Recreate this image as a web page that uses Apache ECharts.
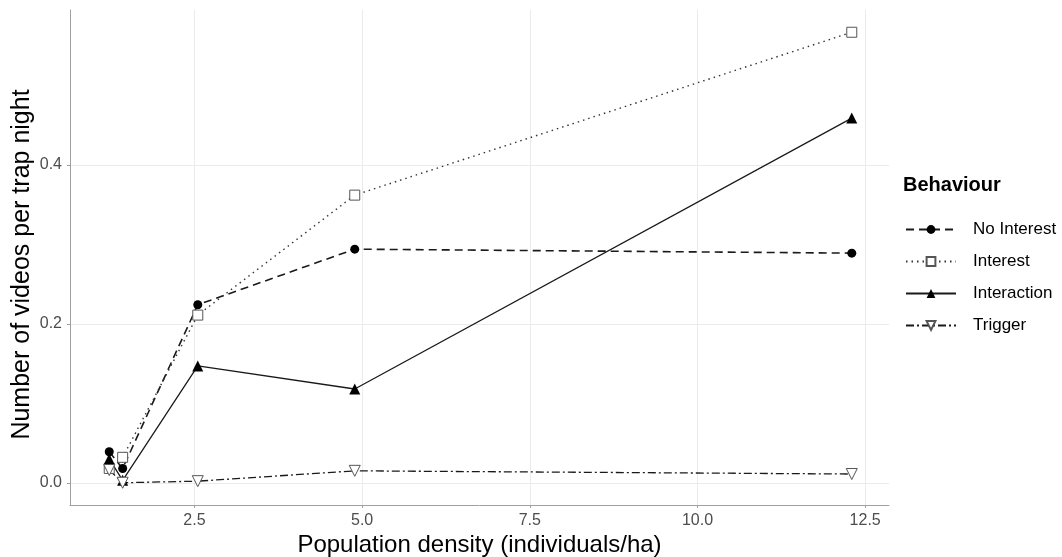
<!DOCTYPE html>
<html>
<head>
  <meta charset="utf-8" />
  <title>Behaviour vs population density</title>
  <script src="https://cdn.jsdelivr.net/npm/echarts@6/dist/echarts.min.js"></script>
  <style>
    html, body { margin: 0; padding: 0; background: #fff; }
    #main { width: 1062px; height: 557px; }
  </style>
</head>
<body>
  <div id="main"></div>
  <script>
    // population density (individuals/ha)
    var density = [1.23, 1.43, 2.55, 4.89, 12.3];
    // videos per trap night, per behaviour
    var noInterest = [0.039, 0.018, 0.224, 0.294, 0.289];
    var interest = [0.018, 0.032, 0.211, 0.362, 0.567];
    var interaction = [0.030, 0.003, 0.147, 0.118, 0.459];
    var trigger = [0.016, 0.000, 0.002, 0.015, 0.011];
    // tick labels
    var xTicks = [2.5, 5.0, 7.5, 10.0, 12.5];
    var yTicks = [0.0, 0.2, 0.4];

    function pairs(ys) {
      return density.map(function (x, i) { return [x, ys[i]]; });
    }

    var font = 'Liberation Sans, Arial, sans-serif';
    var chart = echarts.init(document.getElementById('main'));

    var option = {
      animation: false,
      backgroundColor: '#fff',
      title: {
        text: 'Behaviour',
        left: 898,
        top: 170,
        textStyle: { fontFamily: font, fontSize: 20, fontWeight: 'bold', color: '#000' }
      },
      legend: {
        orient: 'vertical',
        left: 900,
        top: 216,
        itemWidth: 50,
        itemHeight: 11,
        itemGap: 15,
        textStyle: { fontFamily: font, fontSize: 17, color: '#000', padding: [0, 0, 0, 12] },
        data: ['No Interest', 'Interest', 'Interaction', 'Trigger']
      },
      grid: { left: 70, right: 173, top: 10, bottom: 52, outerBoundsMode: 'none', containLabel: false },
      xAxis: {
        type: 'value',
        min: 0.645,
        max: 12.855,
        name: 'Population density (individuals/ha)',
        nameLocation: 'middle',
        nameGap: 28,
        nameMoveOverlap: false,
        nameTextStyle: { fontFamily: font, fontSize: 24, color: '#000' },
        axisLine: { onZero: false, lineStyle: { color: '#a0a0a0', width: 1 } },
        axisTick: { show: true, length: 3, customValues: xTicks, lineStyle: { color: '#a0a0a0' } },
        axisLabel: {
          customValues: xTicks,
          margin: 8,
          fontFamily: font,
          fontSize: 16,
          color: '#4d4d4d',
          formatter: function (v) { return v.toFixed(1); }
        },
        splitLine: { show: true, lineStyle: { color: '#ebebeb', width: 1 } }
      },
      yAxis: {
        type: 'value',
        min: -0.028,
        max: 0.595,
        name: 'Number of videos per trap night',
        nameLocation: 'middle',
        nameGap: 35,
        nameMoveOverlap: false,
        nameTextStyle: { fontFamily: font, fontSize: 25, color: '#000', padding: [0, 14, 0, 0] },
        axisLine: { show: true, onZero: false, lineStyle: { color: '#a0a0a0', width: 1 } },
        axisTick: { show: true, length: 3, customValues: yTicks, lineStyle: { color: '#a0a0a0' } },
        axisLabel: {
          customValues: yTicks,
          margin: 8,
          fontFamily: font,
          fontSize: 16,
          color: '#4d4d4d',
          formatter: function (v) { return v.toFixed(1); }
        },
        splitLine: { show: true, lineStyle: { color: '#ebebeb', width: 1 } }
      },
      series: [
        {
          name: 'No Interest',
          type: 'line',
          data: pairs(noInterest),
          symbol: 'circle',
          symbolSize: 9,
          itemStyle: { color: '#000' },
          lineStyle: { color: '#1a1a1a', width: 1.6, type: [8, 5] }
        },
        {
          name: 'Interest',
          type: 'line',
          data: pairs(interest),
          symbol: 'rect',
          symbolSize: 10,
          itemStyle: { color: '#fff', borderColor: '#555', borderWidth: 1 },
          lineStyle: { color: '#333', width: 1.4, type: [1.5, 4] }
        },
        {
          name: 'Interaction',
          type: 'line',
          data: pairs(interaction),
          symbol: 'triangle',
          symbolSize: 11,
          itemStyle: { color: '#000' },
          lineStyle: { color: '#1a1a1a', width: 1.3, type: 'solid' }
        },
        {
          name: 'Trigger',
          type: 'line',
          data: pairs(trigger),
          symbol: 'triangle',
          symbolRotate: 180,
          symbolSize: 11,
          itemStyle: { color: '#fff', borderColor: '#555', borderWidth: 1 },
          lineStyle: { color: '#1a1a1a', width: 1.3, type: [8, 3, 2, 3] }
        }
      ]
    };
    chart.setOption(option);
  </script>
</body>
</html>
